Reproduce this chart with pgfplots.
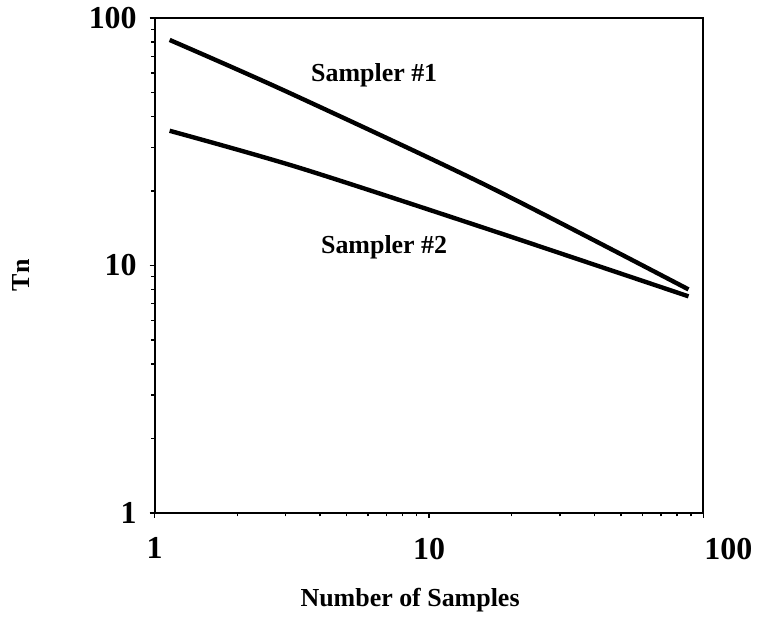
\documentclass[border=0pt]{standalone}
\usepackage{fontspec}
\setmainfont{Liberation Serif}
\usepackage{pgfplots}
\pgfplotsset{compat=1.18}
\begin{document}
\begin{tikzpicture}
\begin{axis}[
  name=ax,
  xmode=log, ymode=log,
  width=275pt, height=248pt, scale only axis,
  xmin=1, xmax=100, ymin=1, ymax=100,
  xtick={1,10,100}, ytick={1,10,100},
  xticklabels={1,10,\hspace*{25pt}100},
  yticklabels={1,10,100},
  /pgf/number format/assume math mode=true,
  tick pos=left, tick align=outside,
  major tick length=2.5pt, minor tick length=1.8pt,
  every tick/.style={black, line width=0.7pt},
  axis line style={line width=1pt},
  axis x line*=bottom, axis y line*=left,
  ticklabel style={font=\fontsize{16}{18}\selectfont\bfseries},
  xticklabel style={yshift=-6.5pt},
  yticklabel style={xshift=-3pt},
  xlabel={Number of Samples},
  ylabel={Tn},
  label style={font=\fontsize{13}{15}\selectfont\bfseries},
  x label style={at={(axis description cs:0.5,0)}, anchor=base, yshift=-47pt, xshift=-9.5pt},
  y label style={at={([xshift=-67pt]axis description cs:0,0.48)}, anchor=center},
  clip=false,
]
\addplot[black, line width=2.2pt, smooth, tension=0.5] coordinates {(1.134,81.5) (3.097,49.8) (16.53,20.8) (88.2,8.0)};
\addplot[black, line width=2.2pt, smooth, tension=0.5] coordinates {(1.134,35.0) (3.37,24.8) (16.53,13.97) (88.2,7.5)};
\node[font=\fontsize{13}{15}\selectfont\bfseries] at (axis cs:6.31,58.9) {Sampler \#1};
\node[font=\fontsize{13}{15}\selectfont\bfseries] at (axis cs:6.86,11.8) {Sampler \#2};
\end{axis}
\path (-77.5pt,-55.5pt) rectangle (302pt,257pt);
\draw[line width=1pt] (ax.north west) -- (ax.north east) -- (ax.south east);
\end{tikzpicture}
\end{document}
